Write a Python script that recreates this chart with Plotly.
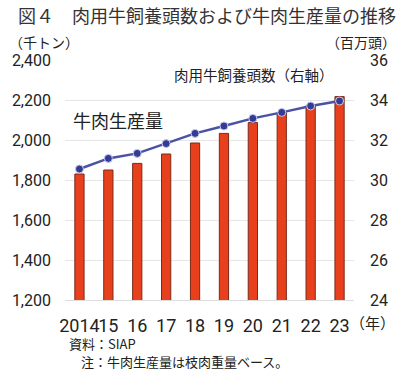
import plotly.graph_objects as go

years = ["2014", "15", "16", "17", "18", "19", "20", "21", "22", "23"]
beef_production = [1830, 1850, 1883, 1930, 1985, 2033, 2087, 2137, 2172, 2217]  # 千トン
cattle_heads = [30.55, 31.08, 31.33, 31.82, 32.33, 32.70, 33.08, 33.38, 33.70, 33.95]  # 百万頭
left_ticks = [1200, 1400, 1600, 1800, 2000, 2200, 2400]
right_ticks = [24, 26, 28, 30, 32, 34, 36]

FONT = "Noto Sans CJK JP"
NUMFONT = "Roboto, Noto Sans CJK JP"
TXT = "#222222"

fig = go.Figure()
fig.add_trace(go.Bar(
    x=years, y=beef_production, width=0.32,
    marker=dict(color="#e8401c", line=dict(color="#7a2a18", width=1)),
    yaxis="y", showlegend=False,
))
fig.add_trace(go.Scatter(
    x=years, y=cattle_heads, mode="lines+markers",
    line=dict(color="#4a52a6", width=2.5),
    marker=dict(color="#353b95", size=8, line=dict(color="#c9cbe8", width=1)),
    yaxis="y2", showlegend=False,
))

fig.update_layout(
    width=400, height=373,
    margin=dict(l=60, r=40, t=60, b=73),
    paper_bgcolor="white", plot_bgcolor="white",
    font=dict(family=FONT, color=TXT, size=16),
    bargap=0.6,
    xaxis=dict(type="category", range=[-0.5, 9.5], showgrid=False,
               showline=True, linecolor="#dddddd", linewidth=1, tickangle=0,
               ticks="", tickfont=dict(size=18, family=NUMFONT), ticklabelstandoff=9),
    yaxis=dict(range=[1200, 2400], tickvals=left_ticks,
               ticktext=[f"{v:,}" for v in left_ticks],
               showgrid=True, gridcolor="#e6e6e6", gridwidth=1, zeroline=False,
               tickfont=dict(size=16, family=NUMFONT), ticks="", ticklabelstandoff=13),
    yaxis2=dict(range=[24, 36], tickvals=right_ticks, overlaying="y", side="right",
                showgrid=False, zeroline=False,
                tickfont=dict(size=16, family=NUMFONT), ticks="", ticklabelstandoff=15),
)

annotations = [
    dict(text="図４　肉用牛飼養頭数および牛肉生産量の推移", xref="paper", yref="paper",
         x=-0.17, y=1.1875, xanchor="left", yanchor="middle", showarrow=False,
         font=dict(size=18, color="#333333", family=FONT)),
    dict(text="（千トン）", xref="paper", yref="paper", x=-0.2, y=1.075,
         xanchor="left", yanchor="middle", showarrow=False, font=dict(size=14)),
    dict(text="（百万頭）", xref="paper", yref="paper", x=1.152, y=1.075,
         xanchor="right", yanchor="middle", showarrow=False, font=dict(size=14)),
    dict(text="（年）", xref="paper", yref="paper", x=1.15, y=-0.094,
         xanchor="right", yanchor="middle", showarrow=False, font=dict(size=15)),
    dict(text="資料：SIAP", xref="paper", yref="paper", x=0.007, y=-0.18,
         xanchor="left", yanchor="middle", showarrow=False, font=dict(size=13)),
    dict(text="注：牛肉生産量は枝肉重量ベース。", xref="paper", yref="paper", x=0.05, y=-0.255,
         xanchor="left", yanchor="middle", showarrow=False, font=dict(size=13)),
    dict(text="肉用牛飼養頭数（右軸）", xref="paper", yref="paper", x=0.655, y=0.94,
         xanchor="center", yanchor="middle", showarrow=False, font=dict(size=14.5)),
    dict(text="牛肉生産量", xref="paper", yref="paper", x=0.02, y=0.75,
         xanchor="left", yanchor="middle", showarrow=False, font=dict(size=18)),
    # leader lines
    dict(text="", x=years[5], y=cattle_heads[5], xref="x", yref="y2",
         showarrow=True, arrowhead=0, arrowwidth=1, arrowcolor="#444444",
         ax=32, ay=-36, standoff=3),
    dict(text="", x=years[4], y=beef_production[4], xref="x", yref="y",
         showarrow=True, arrowhead=0, arrowwidth=1, arrowcolor="#444444",
         ax=-32, ay=-24, standoff=2),
]
fig.update_layout(annotations=annotations)

fig.write_html("out.html", config={"displayModeBar": False},
               post_script="document.body.style.margin='0';")
